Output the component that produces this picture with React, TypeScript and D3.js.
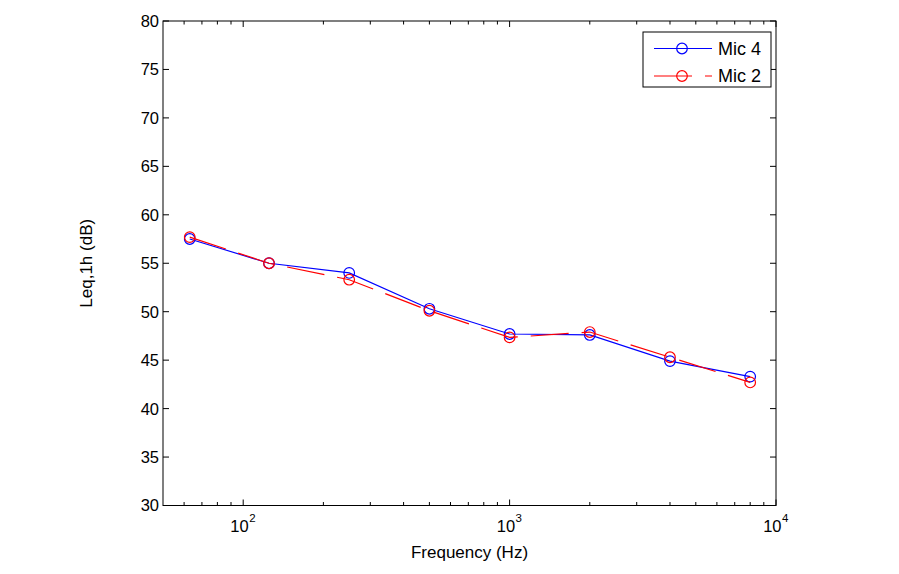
import React from "react";
import * as d3 from "d3";

const frequencies = [63, 125, 250, 500, 1000, 2000, 4000, 8000];
const mic4 = [57.5, 55.0, 54.0, 50.3, 47.7, 47.6, 44.9, 43.3];
const mic2 = [57.7, 55.0, 53.3, 50.1, 47.35, 47.9, 45.3, 42.7];
const yTicks = [30, 35, 40, 45, 50, 55, 60, 65, 70, 75, 80];
const xMajorTicks = [100, 1000, 10000];
const xMajorExp = ["2", "3", "4"];
const xMinorTicks = [60, 70, 80, 90, 200, 300, 400, 500, 600, 700, 800, 900, 2000, 3000, 4000, 5000, 6000, 7000, 8000, 9000];
const seriesNames = ["Mic 4", "Mic 2"];

const W = 899, H = 574;
const L = 163, R = 776, T = 21, B = 505.5;
const FONT = "Arial, 'Liberation Sans', sans-serif";

export default function App() {
  const x = d3.scaleLog().domain([50, 10000]).range([L, R]);
  const y = d3.scaleLinear().domain([30, 80]).range([B, T]);
  const line = d3.line<number>().x((_, i) => x(frequencies[i])).y((d) => y(d));
  const series = [
    { name: seriesNames[0], vals: mic4, color: "#0000ff", dash: undefined as string | undefined },
    { name: seriesNames[1], vals: mic2, color: "#ff0000", dash: "38,13" },
  ];
  return (
    <svg width={W} height={H} style={{ position: "absolute", left: 0, top: 0, background: "#fff" }}>
      <rect x={0} y={0} width={W} height={H} fill="#fff" />
      {yTicks.map((t) => (
        <g key={"y" + t}>
          <line x1={L} x2={L + 6} y1={y(t)} y2={y(t)} stroke="#000" />
          <line x1={R} x2={R - 6} y1={y(t)} y2={y(t)} stroke="#000" />
          <text x={L - 4} y={y(t)} dy="0.36em" textAnchor="end" fontFamily={FONT} fontSize={16.5}>{t}</text>
        </g>
      ))}
      {xMajorTicks.map((t, i) => (
        <g key={"xm" + t}>
          <line x1={x(t)} x2={x(t)} y1={B} y2={B - 6} stroke="#000" />
          <line x1={x(t)} x2={x(t)} y1={T} y2={T + 6} stroke="#000" />
          <text x={x(t) + 5.5} y={532} textAnchor="end" fontFamily={FONT} fontSize={16.5}>10</text>
          <text x={x(t) + 6} y={522} textAnchor="start" fontFamily={FONT} fontSize={11.5}>{xMajorExp[i]}</text>
        </g>
      ))}
      {xMinorTicks.map((t) => (
        <g key={"xn" + t}>
          <line x1={x(t)} x2={x(t)} y1={B} y2={B - 3.5} stroke="#000" />
          <line x1={x(t)} x2={x(t)} y1={T} y2={T + 3.5} stroke="#000" />
        </g>
      ))}
      <rect x={L} y={T} width={R - L} height={B - T} fill="none" stroke="#000" strokeWidth={1} />
      {series.map((s) => (
        <g key={s.name}>
          <path d={line(s.vals) || ""} fill="none" stroke={s.color} strokeWidth={1.2} strokeDasharray={s.dash} />
          {s.vals.map((v, i) => (
            <circle key={i} cx={x(frequencies[i])} cy={y(v)} r={5.3} fill="none" stroke={s.color} strokeWidth={1.2} />
          ))}
        </g>
      ))}
      <rect x={643} y={32} width={128} height={55} fill="#fff" stroke="#000" strokeWidth={1} />
      {series.map((s, i) => {
        const ly = 48.5 + i * 27.5;
        return (
          <g key={"lg" + s.name}>
            <line x1={654} x2={712} y1={ly} y2={ly} stroke={s.color} strokeWidth={1.2} strokeDasharray={s.dash} />
            <circle cx={682} cy={ly} r={5.3} fill="none" stroke={s.color} strokeWidth={1.2} />
            <text x={718} y={ly} dy="0.36em" fontFamily={FONT} fontSize={18}>{s.name}</text>
          </g>
        );
      })}
      <text x={(L + R) / 2} y={558} textAnchor="middle" fontFamily={FONT} fontSize={17}>Frequency (Hz)</text>
      <text transform={`translate(92, ${(T + B) / 2}) rotate(-90)`} textAnchor="middle" fontFamily={FONT} fontSize={17}>Leq,1h (dB)</text>
    </svg>
  );
}
